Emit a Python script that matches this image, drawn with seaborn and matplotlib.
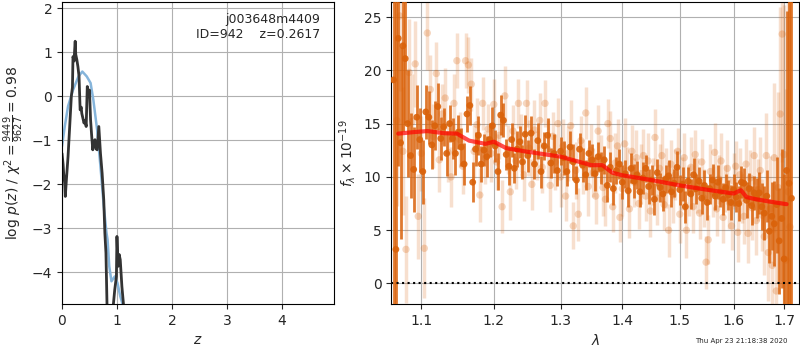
import numpy as np
import pandas as pd
import matplotlib
matplotlib.use("Agg")
import matplotlib.pyplot as plt
import seaborn as sns
from matplotlib.ticker import FixedLocator, FixedFormatter, NullLocator

# ---- p(z) panel ----
z_chi2 = [0.00, 0.02, 0.03, 0.05, 0.06, 0.08, 0.11, 0.14, 0.17, 0.19, 0.20, 0.22, 0.23, 0.24,
          0.25, 0.27, 0.29, 0.31, 0.33, 0.35, 0.36, 0.38, 0.40, 0.42, 0.44, 0.46, 0.48, 0.50,
          0.52, 0.54, 0.56, 0.58, 0.60, 0.62, 0.64, 0.67, 0.70, 0.73, 0.76, 0.78, 0.80,
          0.82, 0.86, 0.90, 0.93, 0.96, 0.99, 1.00, 1.02, 1.04, 1.06, 1.09, 1.12, 1.15]
logp_chi2 = [-1.30, -1.55, -1.75, -2.00, -2.28, -1.90, -1.37, -0.69, 0.00, 0.20, 0.90, 0.80, 1.05, 1.25,
             0.95, 0.83, 0.67, 0.45, -0.31, -0.25, -0.39, -0.50, -0.61, -0.55, -0.69, 0.22, 0.05, 0.14,
             -0.54, -0.90, -1.22, -1.05, -0.99, -1.20, -1.22, -0.69, -1.30, -1.75, -2.36, -3.11, -3.57,
             -4.80, -6.00, -6.20, -4.80, -4.40, -4.10, -3.19, -3.87, -3.60, -3.72, -4.33, -4.75, -5.50]
z_smooth = [0.00, 0.05, 0.11, 0.20, 0.30, 0.37, 0.45, 0.52, 0.57, 0.64, 0.70, 0.76, 0.81, 0.83,
            0.86, 0.90, 0.96, 1.01, 1.06, 1.10, 1.15]
logp_smooth = [-1.14, -0.69, -0.23, 0.14, 0.45, 0.56, 0.45, 0.30, -0.08, -0.77, -1.60, -2.50, -3.11, -3.27,
               -3.87, -4.21, -4.10, -4.25, -4.55, -4.72, -5.20]

# ---- spectrum panel: binned (dark) points ----
bin_wave = [1.064, 1.067, 1.070, 1.073, 1.076, 1.079, 1.082,
            1.086, 1.090, 1.094, 1.098, 1.102, 1.106, 1.110, 1.114, 1.118, 1.122,
            1.126, 1.130, 1.134, 1.138, 1.142, 1.146, 1.150, 1.154, 1.158, 1.162,
            1.166, 1.170, 1.174, 1.178, 1.182, 1.186, 1.190, 1.194, 1.198, 1.202,
            1.206, 1.210, 1.214, 1.218, 1.222, 1.226, 1.230, 1.234, 1.238, 1.242,
            1.246, 1.250,
            1.255, 1.260, 1.265, 1.270, 1.275, 1.280, 1.285, 1.290, 1.295, 1.300,
            1.305, 1.310, 1.315, 1.320, 1.325, 1.330, 1.335, 1.340, 1.345, 1.350,
            1.355, 1.360, 1.365, 1.370, 1.375, 1.380, 1.385, 1.390, 1.395, 1.400,
            1.405, 1.410, 1.415, 1.420, 1.425, 1.430, 1.435, 1.440, 1.445, 1.450,
            1.455, 1.460, 1.465, 1.470, 1.475, 1.480, 1.485, 1.490, 1.495, 1.500,
            1.505, 1.510, 1.515, 1.520, 1.525, 1.530, 1.535, 1.540, 1.545, 1.550,
            1.555, 1.560, 1.565, 1.570, 1.575, 1.580, 1.585, 1.590, 1.595, 1.600,
            1.605, 1.610, 1.615, 1.620, 1.625, 1.630, 1.635, 1.640, 1.645, 1.650,
            1.655, 1.660, 1.665, 1.670, 1.675, 1.680, 1.685, 1.690, 1.695, 1.700,
            1.705, 1.710, 1.715]
bin_flux = [19.1, 3.2, 23.0, 13.2, 22.3, 21.1, 15.0,
            12.0, 10.7, 15.6, 13.5, 10.5, 16.1, 15.6, 13.0, 14.8, 16.6,
            13.6, 14.7, 12.2, 15.0, 13.6, 12.2, 14.2, 12.8, 11.2, 15.9,
            16.7, 9.5, 12.6, 13.9, 11.2, 12.5, 11.9, 13.5, 14.8, 12.9,
            10.5, 15.8, 15.3, 12.1, 11.0, 13.5, 10.8, 12.6, 13.3, 11.4,
            14.0, 12.0,
            14.1, 11.2, 13.4, 10.5, 12.9, 13.9, 11.3, 12.2, 10.6, 12.4,
            11.8, 10.5, 12.8, 11.4, 9.7, 12.6, 11.1, 10.2, 12.2, 11.6,
            10.3, 11.9, 10.8, 11.6, 9.2, 10.9, 8.9, 10.6, 11.2, 9.5,
            10.3, 8.7, 10.8, 9.6, 10.2, 8.6, 9.9, 10.8, 9.1, 9.7,
            7.9, 10.4, 9.0, 8.4, 9.8, 10.1, 8.6, 9.4, 10.9, 8.8,
            9.3, 7.2, 9.6, 8.4, 10.2, 8.9, 9.6, 8.0, 9.2, 7.6,
            8.9, 9.7, 8.2, 9.5, 8.6, 7.9, 9.0, 8.3, 7.6, 8.8,
            8.1, 7.5, 9.5, 9.4, 7.8, 8.9, 7.3, 8.5, 8.0, 8.5,
            7.2, 6.6, 8.2, 4.9, 6.3, 5.6, 7.4, 4.0, 6.1, 2.3,
            10.6, 9.4, 8.0]
bin_err = [25.0, 30.0, 12.0, 9.0, 8.0, 6.0, 5.0,
           4.0, 4.0, 3.0, 3.0, 3.0, 2.5, 2.5, 2.3, 2.3, 2.2,
           2.0, 1.8, 2.1, 1.7, 1.9, 2.0, 1.6, 1.8, 2.0, 1.7,
           1.8, 1.9, 1.6, 1.8, 1.7, 1.5, 1.9, 1.6, 1.8, 1.5,
           1.7, 1.9, 1.6, 1.5, 1.8, 1.6, 1.4, 1.7, 1.5, 1.6,
           1.8, 1.5,
           1.6, 1.4, 1.7, 1.5, 1.3, 1.6, 1.4, 1.8, 1.5, 1.3,
           1.6, 1.4, 1.5, 1.7, 1.3, 1.5, 1.6, 1.4, 1.3, 1.5,
           1.6, 1.4, 1.5, 1.3, 1.6, 1.4, 1.5, 1.3, 1.4, 1.6,
           1.3, 1.5, 1.4, 1.6, 1.3, 1.4, 1.5, 1.3, 1.6, 1.4,
           1.5, 1.3, 1.4, 1.6, 1.3, 1.5, 1.4, 1.3, 1.5, 1.4,
           1.6, 1.5, 1.3, 1.4, 1.6, 1.4, 1.3, 1.5, 1.4, 1.6,
           1.4, 1.5, 1.3, 1.6, 1.4, 1.5, 1.3, 1.4, 1.6, 1.5,
           1.4, 1.6, 1.5, 1.4, 1.7, 1.5, 1.8, 1.6, 1.9, 2.0,
           2.2, 2.5, 2.4, 3.0, 3.2, 4.0, 4.5, 5.0, 6.5, 8.0,
           15.0, 25.0, 30.0]

# ---- spectrum panel: unbinned (light) points ----
raw_wave = [1.068, 1.072, 1.076, 1.080, 1.084, 1.088, 1.092, 1.096, 1.100, 1.104,
            1.108, 1.112, 1.116, 1.120, 1.124, 1.128, 1.132, 1.136, 1.140, 1.144,
            1.148, 1.152, 1.156, 1.160, 1.164, 1.168, 1.172, 1.176, 1.180, 1.184,
            1.188, 1.192, 1.196, 1.200, 1.204, 1.208, 1.212, 1.216, 1.220, 1.224,
            1.228, 1.232, 1.236, 1.240, 1.244, 1.248, 1.252, 1.256, 1.260, 1.264,
            1.268, 1.272, 1.276, 1.280, 1.284, 1.288, 1.292, 1.296, 1.300, 1.304,
            1.308, 1.312, 1.316, 1.320, 1.324, 1.328, 1.332, 1.336, 1.340, 1.344,
            1.348, 1.352, 1.356, 1.360, 1.364, 1.368, 1.372, 1.376, 1.380, 1.384,
            1.388, 1.392, 1.396, 1.400, 1.404, 1.408, 1.412, 1.416, 1.420, 1.424,
            1.428, 1.432, 1.436, 1.440, 1.444, 1.448, 1.452, 1.456, 1.460, 1.464,
            1.468, 1.472, 1.476, 1.480, 1.484, 1.488, 1.492, 1.496, 1.500, 1.504,
            1.508, 1.512, 1.516, 1.520, 1.524, 1.528, 1.532, 1.536, 1.540, 1.544,
            1.548, 1.552, 1.556, 1.560, 1.564, 1.568, 1.572, 1.576, 1.580, 1.584,
            1.588, 1.592, 1.596, 1.600, 1.604, 1.608, 1.612, 1.616, 1.620, 1.624,
            1.628, 1.632, 1.636, 1.640, 1.644, 1.648, 1.652, 1.656, 1.660, 1.664,
            1.668, 1.672, 1.676, 1.680, 1.684, 1.688, 1.692, 1.696, 1.700, 1.704,
            1.708, 1.712]
raw_flux = [15.3, 25.1, 12.4, 3.2, 19.8, 15.2, 20.6, 6.3, 12.2, 3.3,
            23.5, 18.2, 13.8, 19.7, 11.6, 15.9, 17.4, 12.3, 10.0, 16.9,
            20.9, 13.5, 11.0, 20.9, 20.5, 18.7, 12.4, 14.9, 8.3, 16.9,
            11.8, 14.5, 12.2, 16.8, 11.4, 13.9, 7.2, 17.6, 12.6, 8.6,
            14.3, 11.5, 16.9, 13.2, 10.2, 16.9, 12.7, 9.3, 14.4, 12.0,
            15.3, 10.9, 16.9, 12.6, 9.2, 13.8, 11.4, 15.0, 10.0, 12.9,
            8.2, 12.2, 14.8, 5.4, 10.6, 6.5, 13.4, 11.0, 16.0, 9.1,
            12.5, 10.4, 8.2, 14.3, 11.7, 9.0, 7.9, 15.0, 13.6, 7.2,
            11.3, 12.9, 6.2, 8.9, 13.1, 10.6, 7.0, 12.4, 9.5, 11.8,
            7.5, 10.3, 12.0, 8.2, 11.5, 6.8, 9.6, 13.7, 8.0, 10.8,
            12.0, 7.4, 9.9, 5.0, 11.2, 8.3, 10.2, 12.4, 6.5, 9.4,
            11.8, 5.0, 8.7, 10.9, 7.2, 12.1, 9.2, 6.6, 11.4, 8.0,
            2.0, 4.1, 10.5, 8.6, 12.3, 7.0, 9.8, 11.5, 6.2, 8.9,
            10.8, 7.6, 5.4, 9.6, 11.0, 4.8, 10.2, 8.0, 6.3, 11.2,
            4.7, 9.9, 7.1, 12.0, 5.9, 8.8, 10.6, 6.4, 4.4, 12.0,
            2.9, 7.0, 1.7, 11.8, -0.7, 9.0, 15.9, 23.4, 12.1, 2.2,
            8.6, 5.3]
raw_err = [8.0, 7.0, 6.0, 5.0, 5.0, 4.5, 4.0, 4.0, 3.5, 4.7,
           3.5, 3.2, 3.0, 3.0, 3.0, 2.8, 2.8, 2.8, 2.8, 2.8,
           2.6, 2.6, 2.6, 2.6, 2.6, 2.5, 2.5, 2.5, 2.5, 2.5,
           2.5, 2.3, 2.7, 2.4, 2.6, 2.2, 2.5, 2.8, 2.3, 2.6,
           2.4, 2.6, 2.3, 2.7, 2.5, 2.2, 2.6, 2.4, 2.8, 2.3,
           2.6, 2.4, 2.2, 2.7, 2.5, 2.3, 2.6, 2.4, 2.8, 2.5,
           2.3, 2.6, 2.4, 2.2, 2.7, 2.5, 2.3, 2.6, 2.4, 2.8,
           2.5, 2.3, 2.6, 2.4, 2.2, 2.7, 2.5, 2.3, 2.6, 2.4,
           2.8, 2.5, 2.3, 2.6, 2.4, 2.2, 2.7, 2.5, 2.3, 2.6,
           2.4, 2.8, 2.5, 2.3, 2.6, 2.4, 2.2, 2.7, 2.5, 2.3,
           2.6, 2.4, 2.8, 2.5, 2.3, 2.6, 2.4, 2.2, 2.7, 2.5,
           2.3, 2.6, 2.4, 2.8, 2.5, 2.3, 2.6, 2.4, 2.2, 2.7,
           2.5, 2.3, 2.6, 2.4, 2.8, 2.5, 2.3, 2.6, 2.4, 2.2,
           2.7, 2.5, 2.3, 2.6, 2.4, 2.8, 2.5, 2.3, 2.6, 2.4,
           2.8, 2.6, 3.0, 2.7, 3.2, 2.9, 3.1, 3.4, 3.6, 4.0,
           4.5, 5.0, 6.0, 7.0, 8.0, 9.0, 10.0, 12.0, 14.0, 16.0,
           20.0, 25.0]

# ---- best-fit model ----
model_wave = [1.070, 1.090, 1.108, 1.130, 1.148, 1.165, 1.188, 1.200, 1.218, 1.245, 1.300,
              1.349, 1.367, 1.383, 1.400, 1.450, 1.500, 1.549, 1.600, 1.614, 1.625, 1.644,
              1.675, 1.705]
model_flux = [14.06, 14.2, 14.3, 14.1, 14.06, 13.4, 13.1, 13.3, 12.7, 12.4, 11.9,
              11.1, 11.1, 10.4, 10.15, 9.7, 9.2, 8.8, 8.44, 8.75, 8.1, 7.9,
              7.65, 7.44]

xticks = [1.1, 1.2, 1.3, 1.4, 1.5, 1.6, 1.7]
xtick_labels = ["1.1", "1.2", "1.3", "1.4", "1.5", "1.6", "1.7"]

dark = "#da620a"
grid_kw = dict(color="#b0b0b0", lw=0.8)

sns.set_style("ticks")
plt.rcParams["font.family"] = ["DejaVu Sans"]

fig = plt.figure(figsize=(8, 3.5), dpi=100)
ax1 = fig.add_axes([0.0775, 0.131, 0.34, 0.863])
ax2 = fig.add_axes([0.489, 0.131, 0.51, 0.863])

# left: p(z)
pz = pd.DataFrame({"z": z_chi2, "logp": logp_chi2})
pz_s = pd.DataFrame({"z": z_smooth, "logp": logp_smooth})
sns.lineplot(data=pz_s, x="z", y="logp", ax=ax1, color="#86b5db", lw=1.8, sort=False)
sns.lineplot(data=pz, x="z", y="logp", ax=ax1, color="#333333", lw=2.0, sort=False)
ax1.set_xlim(0, 4.95)
ax1.set_ylim(-4.73, 2.14)
ax1.set_xticks([0, 1, 2, 3, 4])
ax1.set_yticks([-4, -3, -2, -1, 0, 1, 2])
ax1.grid(True, **grid_kw)
ax1.set_xlabel("$z$")
ax1.set_ylabel(r"$\log\,p(z)$ / $\chi^2=\frac{9449}{9627}=0.98$")
ax1.text(0.95, 0.965, "j003648m4409\nID=942    z=0.2617", transform=ax1.transAxes,
         ha="right", va="top", fontsize=9)

# right: spectrum
raw = pd.DataFrame({"wave": raw_wave, "flux": raw_flux, "err": raw_err})
binned = pd.DataFrame({"wave": bin_wave, "flux": bin_flux, "err": bin_err})
model = pd.DataFrame({"wave": model_wave, "flux": model_flux})

ax2.vlines(raw["wave"], raw["flux"] - raw["err"], raw["flux"] + raw["err"],
           color=dark, alpha=0.2, lw=2.5, zorder=2)
sns.scatterplot(data=raw, x="wave", y="flux", ax=ax2, color=dark, alpha=0.25,
                s=28, edgecolor="none", zorder=2)
ax2.vlines(binned["wave"], binned["flux"] - binned["err"], binned["flux"] + binned["err"],
           color=dark, alpha=0.85, lw=2.0, zorder=3)
sns.scatterplot(data=binned, x="wave", y="flux", ax=ax2, color=dark, alpha=0.9,
                s=24, edgecolor="none", zorder=3)
sns.lineplot(data=model, x="wave", y="flux", ax=ax2, color="red", alpha=0.7, lw=3, zorder=4)
ax2.axhline(0, color="k", ls=":", lw=1.5, zorder=5)

ax2.set_xscale("log")
ax2.set_xlim(1.061, 1.731)
ax2.set_ylim(-1.94, 26.4)
ax2.xaxis.set_major_locator(FixedLocator(xticks))
ax2.xaxis.set_major_formatter(FixedFormatter(xtick_labels))
ax2.xaxis.set_minor_locator(NullLocator())
ax2.set_yticks([0, 5, 10, 15, 20, 25])
ax2.grid(True, **grid_kw)
ax2.set_axisbelow(True)
ax2.set_xlabel(r"$\lambda$")
ax2.set_ylabel(r"$f_\lambda\times10^{-19}$")

for ax in (ax1, ax2):
    for sp in ax.spines.values():
        sp.set_visible(True)
        sp.set_color("k")

fig.text(0.984, 0.027, "Thu Apr 23 21:18:38 2020", ha="right", va="center", fontsize=5)

fig.savefig("out.png", dpi=100)
